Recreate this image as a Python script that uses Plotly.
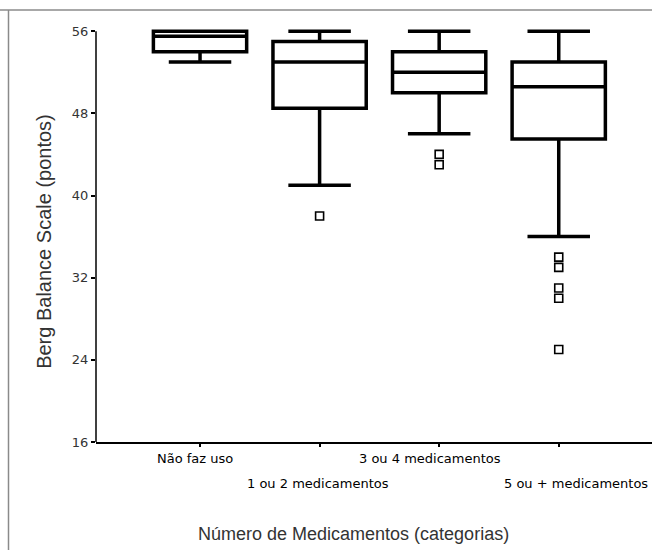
import plotly.graph_objects as go

# Berg Balance Scale by number of medications
categories = ["Não faz uso", "1 ou 2 medicamentos", "3 ou 4 medicamentos", "5 ou + medicamentos"]
lower_whisker = [53, 41, 46, 36]
q1 = [54, 48.5, 50, 45.5]
median = [55.5, 53, 52, 50.6]
q3 = [56, 55, 54, 53]
upper_whisker = [56, 56, 56, 56]

# outliers (category, value)
outlier_cat = ["1 ou 2 medicamentos", "3 ou 4 medicamentos", "3 ou 4 medicamentos",
               "5 ou + medicamentos", "5 ou + medicamentos", "5 ou + medicamentos",
               "5 ou + medicamentos", "5 ou + medicamentos"]
outlier_val = [38, 44, 43, 34, 33, 31, 30, 25]

y_ticks = [16, 24, 32, 40, 48, 56]

fig = go.Figure()
fig.add_trace(go.Box(
    x=categories,
    q1=q1, median=median, q3=q3,
    lowerfence=lower_whisker, upperfence=upper_whisker,
    boxpoints=False,
    width=0.78,
    whiskerwidth=0.67,
    fillcolor="white",
    line=dict(color="black", width=3.5),
    showlegend=False,
    hoverinfo="skip",
))
fig.add_trace(go.Scatter(
    x=outlier_cat, y=outlier_val, mode="markers",
    marker=dict(symbol="square-open", size=8, color="black", line=dict(width=1.6)),
    showlegend=False,
    hoverinfo="skip",
))

# staggered category labels (last one kept inside the right edge)
label_rows = [0, 1, 0, 1]
label_shift = [-5, -2, -9, 0]
annotations = []
for i, (cat, row, dx) in enumerate(zip(categories, label_rows, label_shift)):
    last = i == len(categories) - 1
    annotations.append(dict(
        x=1 if last else cat, y=0,
        xref="paper" if last else "x", yref="paper",
        text=cat, showarrow=False,
        xanchor="right" if last else "center", yanchor="middle",
        xshift=-2 if last else dx, yshift=-16 - 25 * row,
        font=dict(family="DejaVu Sans", size=13, color="#000000"),
    ))

annotations.append(dict(
    x=(353 - 96) / 556, y=0, xref="paper", yref="paper",
    text="Número de Medicamentos (categorias)", showarrow=False,
    xanchor="center", yanchor="middle", yshift=-92,
    font=dict(family="Liberation Sans", size=18, color="#333333"),
))
annotations.append(dict(
    x=(44 - 96) / 556, y=0.48, xref="paper", yref="paper",
    text="Berg Balance Scale (pontos)", showarrow=False, textangle=-90,
    xanchor="center", yanchor="middle",
    font=dict(family="Liberation Sans", size=20, color="#333333"),
))

shapes = [
    # vertical axis line spanning the scale
    dict(type="line", xref="paper", yref="y", x0=0, x1=0, y0=16, y1=56,
         line=dict(color="black", width=1.5)),
    # frame lines
    dict(type="line", xref="paper", yref="paper", x0=-0.2, x1=1.1,
         y0=(442 - 10) / 417, y1=(442 - 10) / 417,
         line=dict(color="#a8a8a8", width=2)),
    dict(type="line", xref="paper", yref="paper",
         x0=(8.5 - 96) / 556, x1=(8.5 - 96) / 556,
         y0=(442 - 10) / 417, y1=-0.5,
         line=dict(color="#8a8a8a", width=1.5)),
]

fig.update_layout(
    width=652, height=550,
    margin=dict(l=96, r=0, t=25, b=108),
    paper_bgcolor="white", plot_bgcolor="white",
    annotations=annotations,
    shapes=shapes,
    xaxis=dict(
        type="category", range=[-0.87, 3.78],
        showline=True, linecolor="black", linewidth=1.5,
        showgrid=False, zeroline=False,
        ticks="outside", ticklen=3, tickcolor="black", tickwidth=1.5,
        showticklabels=False,
    ),
    yaxis=dict(
        range=[16, 56.6],
        tickvals=y_ticks,
        showline=False, showgrid=False, zeroline=False,
        ticks="outside", ticklen=4, tickcolor="black", tickwidth=2,
        tickfont=dict(family="DejaVu Sans", size=13, color="#333333"),
    ),
)

fig.write_html("out.html")
